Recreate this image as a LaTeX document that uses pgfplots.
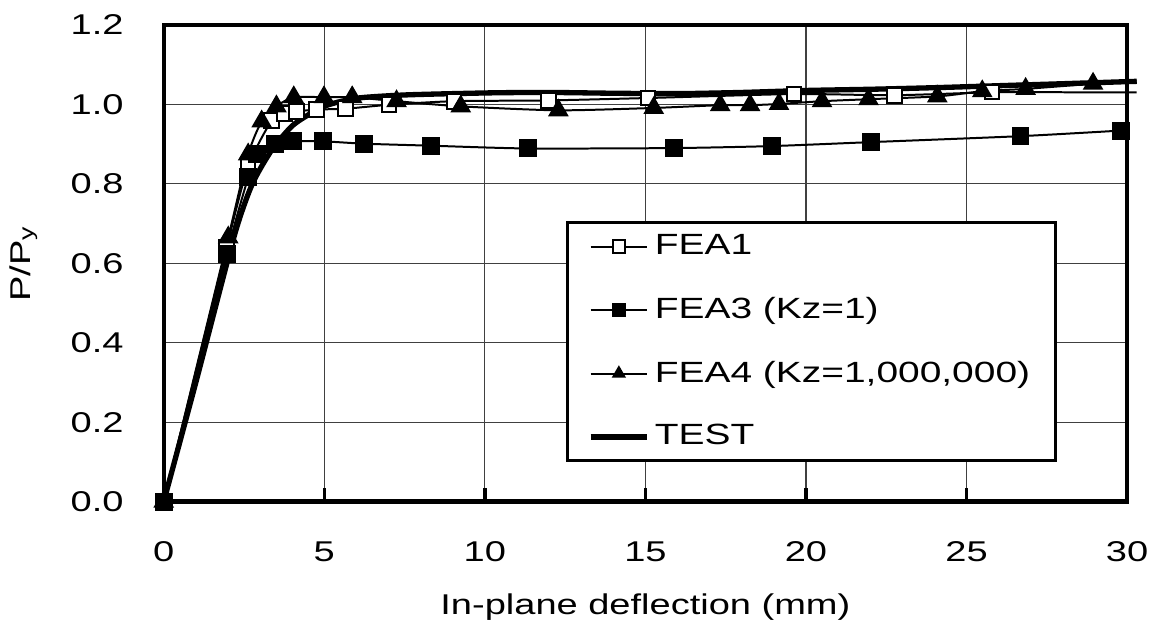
\documentclass[border=0pt]{standalone}
\usepackage{fontspec}
\setmainfont{Liberation Sans}[FakeStretch=1.33]
\usepackage{pgfplots}
\pgfplotsset{compat=1.18}

\begin{document}
\fontsize{8.6}{10}\selectfont
\begin{tikzpicture}
\begin{axis}[
    scale only axis,
    width=289.8pt, height=143.4pt,
    xmin=0, xmax=30, ymin=0, ymax=1.2,
    clip=false,
    xtick={0,5,10,15,20,25,30},
    ytick={0,0.2,0.4,0.6,0.8,1.0,1.2},
    /pgf/number format/assume math mode=true,
    yticklabel style={/pgf/number format/fixed, /pgf/number format/fixed zerofill,
        /pgf/number format/precision=1, xshift=-9pt},
    xticklabel style={yshift=-9pt},
    xtick pos=bottom, ytick pos=left,
    tick align=inside,
    major tick length=4pt,
    xtick style={line width=1pt, black},
    ytick style={draw=none},
    grid=major,
    major grid style={line width=0.35pt, black!75},
    axis line style={line width=1.3pt},
    xlabel={In-plane deflection (mm)},
    ylabel={P/P\textsubscript{y}},
    xlabel style={yshift=-3.5pt},
    ylabel style={yshift=4pt},
    legend style={at={(0.418,0.588)}, anchor=north west, draw=black,
        line width=0.9pt, inner xsep=6pt, inner ysep=2pt,
        nodes={inner sep=1.5pt}, row sep=8.5pt,
        font=\fontsize{8.8}{10}\selectfont,
        /tikz/every even column/.append style={column sep=0pt}},
    legend cell align=left,
    legend image post style={mark size=1.9pt},
]

% FEA1
\addplot[black, line width=0.6pt, smooth, tension=0.4,
    mark=square*, mark size=2.2pt, mark options={fill=white, solid, line width=0.6pt}]
coordinates {(0,0) (1.96,0.641) (2.63,0.844) (3.36,0.959) (3.77,0.977) (4.13,0.982)
 (4.75,0.987) (5.66,0.989) (7.02,0.999) (9.04,1.008) (11.98,1.010) (15.08,1.016)
 (19.63,1.026) (22.75,1.023) (25.79,1.031)};
\addlegendentry{FEA1}

% FEA3 (Kz=1)
\addplot[black, line width=0.6pt, smooth, tension=0.4,
    mark=square*, mark size=2.4pt, mark options={fill=black, solid}]
coordinates {(0,0) (1.96,0.623) (2.63,0.816) (2.9,0.875) (3.46,0.901) (4.03,0.907)
 (4.96,0.907) (6.25,0.901) (8.31,0.896) (11.33,0.889) (15.88,0.890) (18.93,0.895)
 (22.03,0.905) (26.68,0.920) (29.8,0.934)};
\addlegendentry{FEA3 (Kz=1)}

% FEA4 (Kz=1,000,000)
\addplot[black, line width=0.6pt, smooth, tension=0.4,
    mark=triangle*, mark size=3pt, mark options={fill=black, solid}]
coordinates {(0,0) (2.01,0.665) (2.63,0.874) (3.05,0.957) (3.51,0.995) (4.05,1.018)
 (4.99,1.018) (5.87,1.018) (7.25,1.008) (9.25,0.995) (12.29,0.985) (15.26,0.991)
 (17.33,0.998) (18.26,0.998) (19.16,1.001) (20.5,1.008) (21.95,1.013) (24.09,1.020)
 (25.49,1.033) (26.84,1.039) (28.94,1.052)};
\addlegendentry{FEA4 (Kz=1,000,000)}

% TEST
\addplot[black, line width=1.6pt, smooth, tension=0.4]
coordinates {(0,0) (1.0,0.30) (2.2,0.67) (2.76,0.80) (3.37,0.886) (3.99,0.945)
 (4.51,0.974) (5.13,0.999) (6.06,1.016) (7.6,1.024) (10.2,1.029) (12,1.030)
 (14,1.028) (16,1.027) (18,1.030) (20,1.035) (22,1.038) (24,1.042) (26,1.047)
 (28,1.052) (30.3,1.058)};
\addlegendentry{TEST}

% line ends past the last markers
\addplot[black, line width=0.6pt, forget plot] coordinates {(25.79,1.031) (30.3,1.030)};
\addplot[black, line width=0.6pt, forget plot] coordinates {(28.94,1.052) (30.3,1.060)};

\end{axis}
\path ([xshift=-48.3pt, yshift=-38.4pt]current axis.south west)
    rectangle ([xshift=9.9pt, yshift=7.5pt]current axis.north east);
\end{tikzpicture}
\end{document}
